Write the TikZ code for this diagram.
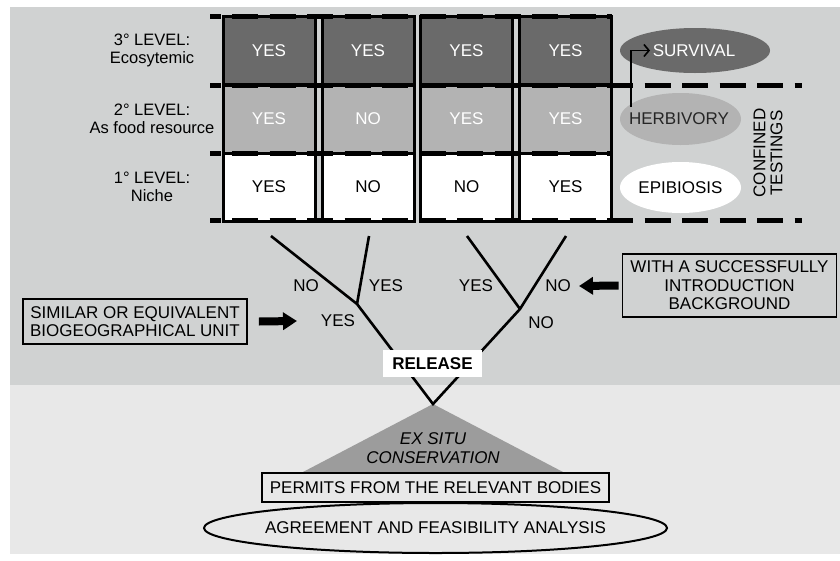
\documentclass[tikz,border=0pt]{standalone}
\usepackage{fontspec}
\setmainfont{Liberation Sans}
\usetikzlibrary{arrows.meta}

\definecolor{panel}{HTML}{D0D2D2}
\definecolor{lowpanel}{HTML}{E8E8E8}
\definecolor{darkcell}{HTML}{6A6A6A}
\definecolor{midcell}{HTML}{B3B3B3}
\definecolor{conegray}{HTML}{9C9C9C}

\newcommand{\figfont}{\fontsize{17}{18.5}\selectfont}

\tikzset{
  every node/.style={font=\figfont},
  cell/.style={draw, line width=3pt, minimum width=92pt, minimum height=68pt, inner sep=0pt},
  lvl/.style={align=center, font=\fontsize{16.5}{18.5}\selectfont},
  boxed/.style={draw, line width=1.8pt, align=center, inner sep=0pt},
  fatarrow/.style={line width=8pt, -{Triangle[length=14pt,width=17pt]}},
  branch/.style={line width=2.6pt},
  sepline/.style={line width=5pt, dash pattern=on 26pt off 11.5pt, dash phase=15.5pt}
}

\begin{document}
\begin{tikzpicture}[x=1pt, y=-1pt]
    \useasboundingbox (0,0) rectangle (840,560);
    \fill[panel] (10,7) rectangle (840,385);
    \fill[lowpanel] (10,385) rectangle (840,554);

    \node[lvl] (lev3) at (152,50.5) {3° LEVEL:\\Ecosytemic};
    \node[lvl] (lev2) at (152,119) {2° LEVEL:\\As food resource};
    \node[lvl] (lev1) at (152,187) {1° LEVEL:\\Niche};

    \pgfmathsetmacro{\xc}{269};
    \node[cell, fill=darkcell, text=white] (c1a) at (\xc,50.5) {YES};
    \node[cell, fill=midcell, text=white] (c1b) at (\xc,119) {YES};
    \node[cell, fill=white] (c1c) at (\xc,187) {YES};

    \pgfmathsetmacro{\xc}{368};
    \node[cell, fill=darkcell, text=white] (c2a) at (\xc,50.5) {YES};
    \node[cell, fill=midcell, text=white] (c2b) at (\xc,119) {NO};
    \node[cell, fill=white] (c2c) at (\xc,187) {NO};

    \pgfmathsetmacro{\xc}{466.5};
    \node[cell, fill=darkcell, text=white] (c3a) at (\xc,50.5) {YES};
    \node[cell, fill=midcell, text=white] (c3b) at (\xc,119) {YES};
    \node[cell, fill=white] (c3c) at (\xc,187) {NO};

    \pgfmathsetmacro{\xc}{565.5};
    \node[cell, fill=darkcell, text=white] (c4a) at (\xc,50.5) {YES};
    \node[cell, fill=midcell, text=white] (c4b) at (\xc,119) {YES};
    \node[cell, fill=white] (c4c) at (\xc,187) {YES};

    \draw[sepline] (210,16) -- (612,16);
    \draw[sepline] (210,85) -- (802,85);
    \draw[sepline] (210,153) -- (612,153);
    \draw[sepline] (210,220) -- (802,220);

    % test ellipses
    \fill[darkcell] (695,50.5) ellipse [x radius=75, y radius=22.5];
    \node[text=white] (survival) at (694,50.5) {SURVIVAL};
    \fill[midcell] (680.5,119) ellipse [x radius=60.5, y radius=26];
    \node[text=black!85] (herbivory) at (679,119) {HERBIVORY};
    \fill[white] (680.5,187.5) ellipse [x radius=60.5, y radius=25.5];
    \node (epibiosis) at (680.5,187.5) {EPIBIOSIS};
    \coordinate (herbtop) at (631,107);
    \coordinate (survin) at (650,50.5);
    \draw[line width=1.6pt, -{Straight Barb[length=5pt,width=12pt]}] (herbtop) |- (survin);

    \node[rotate=90, align=center, font=\fontsize{17}{17}\selectfont] (confined) at (768,153) {CONFINED\\TESTINGS};

    % release tree
    \coordinate (l1) at (271,236);
    \coordinate (l2) at (369,236);
    \coordinate (lj) at (357,304);
    \coordinate (r1) at (467,236);
    \coordinate (r2) at (566,236);
    \coordinate (rj) at (520,309);
    \coordinate (apex) at (433,404);

    \fill[conegray] (apex) -- (563,472) -- (303,472) -- cycle;
    \draw[branch] (l1) -- (lj) -- (apex) -- (rj) -- (r2);
    \draw[branch] (l2) -- (lj);
    \draw[branch] (r1) -- (rj);

    \node[fill=white, minimum width=99pt, minimum height=27pt, font=\figfont\bfseries] (release) at (432.5,363.5) {RELEASE};

    \node (no1) at (306,286) {NO};
    \node (yes1) at (386,286) {YES};
    \node (yes2) at (338,320.5) {YES};
    \node (yes3) at (476,286) {YES};
    \node (no2) at (558,286) {NO};
    \node (no3) at (541,322.5) {NO};

    \node[boxed, minimum width=224pt, minimum height=45pt] (similar) at (135,321.5) {SIMILAR OR EQUIVALENT\\BIOGEOGRAPHICAL UNIT};
    \node[boxed, minimum width=214pt, minimum height=63pt] (background) at (729.5,285.5) {WITH A SUCCESSFULLY\\INTRODUCTION\\BACKGROUND};
    \coordinate (simtip) at (297,321);
    \coordinate (bgtip) at (579,286);
    \draw[fatarrow] ([xshift=11pt]similar.east) -- (simtip);
    \draw[fatarrow] ([xshift=-3pt]background.west) -- (bgtip);

    \node[align=center, font=\figfont\itshape] (exsitu) at (433,448) {EX SITU\\CONSERVATION};

    \draw[line width=2pt] (435.5,528) ellipse [x radius=231.5, y radius=25];
    \node (agreement) at (435.5,528) {AGREEMENT AND FEASIBILITY ANALYSIS};
    \node[boxed, fill=lowpanel, line width=2.5pt, minimum width=347pt, minimum height=29pt] (permits) at (435.5,487.5) {PERMITS FROM THE RELEVANT BODIES};
\end{tikzpicture}
\end{document}
